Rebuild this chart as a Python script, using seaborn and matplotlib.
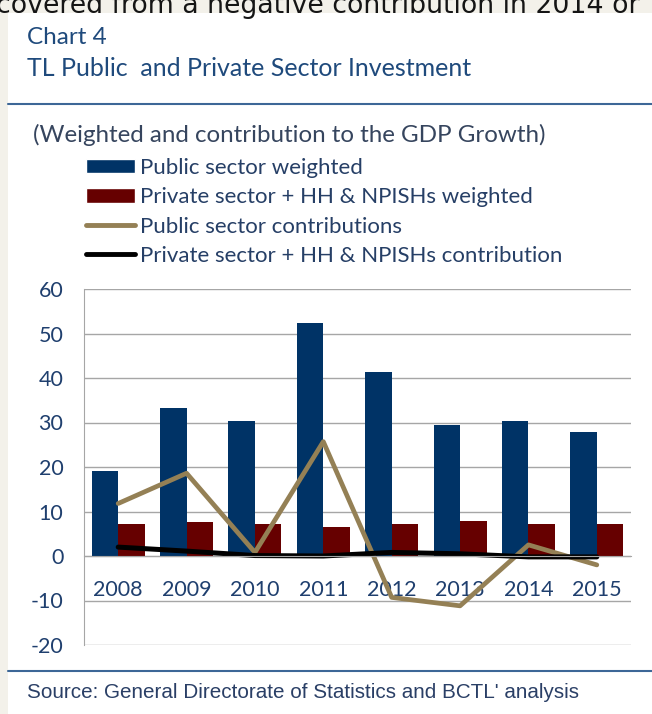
import pandas as pd
import matplotlib
matplotlib.use('Agg')
import matplotlib.pyplot as plt
import seaborn as sns
from matplotlib.patches import Rectangle
from matplotlib.lines import Line2D

# Dados
anos = ['2008', '2009', '2010', '2011', '2012', '2013', '2014', '2015']
publico_ponderado = [19.2, 33.3, 30.4, 52.4, 41.4, 29.4, 30.4, 27.9]
privado_ponderado = [7.3, 7.6, 7.3, 6.6, 7.3, 7.9, 7.3, 7.3]
publico_contribuicao = [11.8, 18.6, 0.8, 25.7, -9.3, -11.2, 2.5, -2.0]
privado_contribuicao = [2.0, 1.1, 0.1, 0.0, 0.8, 0.5, -0.2, -0.2]

nomes_series = ['Public sector weighted',
                'Private sector + HH & NPISHs weighted',
                'Public sector contributions',
                'Private sector + HH & NPISHs contribution']

cor_publico = '#003366'
cor_privado = '#660000'
cor_linha_publico = '#948055'
cor_linha_privado = '#000000'
cor_texto = '#1f3f6e'
cor_grade = '#a6a6a6'

sns.set_style('white')
plt.rcParams['font.family'] = ['Lato', 'DejaVu Sans']
plt.rcParams['axes.unicode_minus'] = False

barras_df = pd.DataFrame({
    'ano': anos * 2,
    'valor': publico_ponderado + privado_ponderado,
    'serie': [nomes_series[0]] * len(anos) + [nomes_series[1]] * len(anos),
})

fig = plt.figure(figsize=(6.52, 7.14), dpi=100, facecolor='#f3f1ea')
fig.patches.append(Rectangle((8 / 652, 0), 1, 1 - 13 / 714, transform=fig.transFigure,
                             facecolor='white', edgecolor='none', zorder=-5))

# texto cortado do documento acima do gráfico
fig.text(-0.006, 1 - 13 / 714, 'covered from a negative contribution in 2014 or',
         family='DejaVu Sans', fontsize=19.3, color='#151515', va='baseline', ha='left')

ax = fig.add_axes([84 / 652, 1 - 645 / 714, 547 / 652, 356 / 714])
ax.set_facecolor('none')

sns.barplot(data=barras_df, x='ano', y='valor', hue='serie',
            palette=[cor_publico, cor_privado], width=0.775, saturation=1,
            linewidth=0, legend=False, ax=ax)
sns.pointplot(x=anos, y=publico_contribuicao, color=cor_linha_publico, marker='',
              linewidth=3.4, errorbar=None, ax=ax)
sns.pointplot(x=anos, y=privado_contribuicao, color=cor_linha_privado, marker='',
              linewidth=3.6, errorbar=None, ax=ax)

ax.set_xlim(-0.5, len(anos) - 0.5)
ax.set_ylim(-20, 60)
ax.set_yticks(range(-20, 61, 10))
ax.set_axisbelow(True)
ax.yaxis.grid(True, color=cor_grade, linewidth=1)
ax.set_xlabel('')
ax.set_ylabel('')

for lado in ['top', 'right']:
    ax.spines[lado].set_visible(False)
ax.spines['left'].set_color(cor_grade)
ax.spines['bottom'].set_color(cor_grade)
ax.spines['bottom'].set_position(('data', 0))

ax.set_xticks(range(len(anos)))
ax.set_xticklabels(anos)
ax.set_xticks([i - 0.5 for i in range(len(anos) + 1)], minor=True)
ax.tick_params(axis='x', which='major', length=0, pad=17, labelsize=15.5, labelcolor=cor_texto)
ax.tick_params(axis='x', which='minor', length=5.8, color=cor_grade, direction='out')
ax.tick_params(axis='y', length=5.8, color=cor_grade, pad=9, labelsize=15.5, labelcolor=cor_texto)

# legenda
handles = [
    Rectangle((0, 0), 1, 1, facecolor=cor_publico),
    Rectangle((0, 0), 1, 1, facecolor=cor_privado),
    Line2D([], [], color=cor_linha_publico, linewidth=3.5, solid_capstyle='round'),
    Line2D([], [], color=cor_linha_privado, linewidth=3.5, solid_capstyle='round'),
]
fig.legend(handles, nomes_series, loc='upper left', bbox_to_anchor=(86 / 652, 1 - 158 / 714),
           frameon=False, fontsize=16, handlelength=2.2, handleheight=0.63,
           handletextpad=0.22, labelspacing=0.42, borderpad=0, borderaxespad=0,
           labelcolor='#263f66')

# títulos e fonte
fig.text(27 / 652, 1 - 37 / 714, 'Chart 4', fontsize=17.5, color='#1f4a7c', va='center')
fig.text(27 / 652, 1 - 69 / 714, 'TL Public  and Private Sector Investment', fontsize=18,
         color='#1f4a7c', va='center')
fig.add_artist(Line2D([8 / 652, 1], [1 - 104 / 714] * 2, color='#3d6797', linewidth=1.5,
                      transform=fig.transFigure))
fig.text(33 / 652, 1 - 135 / 714, '(Weighted and contribution to the GDP Growth)',
         fontsize=17.4, color='#36455e', va='center')
fig.add_artist(Line2D([8 / 652, 1], [1 - 671 / 714] * 2, color='#3d6797', linewidth=1.5,
                      transform=fig.transFigure))
fig.text(27 / 652, 1 - 692 / 714, "Source: General Directorate of Statistics and BCTL' analysis",
         family=['Liberation Sans Narrow', 'Liberation Sans'], fontsize=14.9,
         color='#2a3f66', va='center')

plt.savefig('out.png', dpi=100, facecolor=fig.get_facecolor())
